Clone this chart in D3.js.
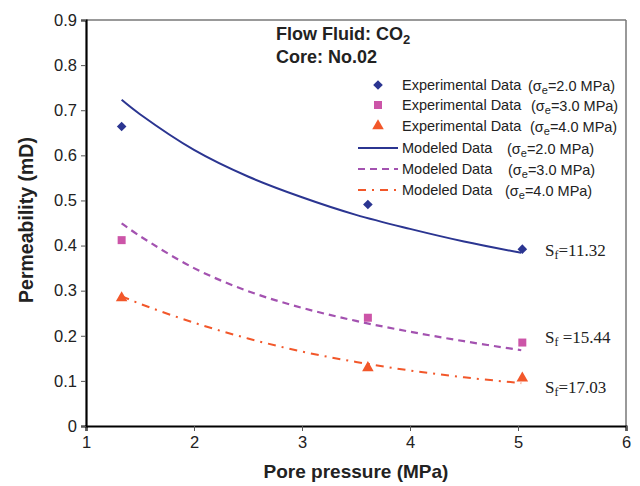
<!DOCTYPE html>
<html><head><meta charset="utf-8">
<script src="https://cdn.jsdelivr.net/npm/d3@7"></script>
<style>body{margin:0;background:#fff}svg{display:block}</style>
</head><body>
<svg id="c" width="640" height="486"></svg>
<script>
// ---- data ----
const xTicks = [1, 2, 3, 4, 5, 6];
const yTicks = [0, 0.1, 0.2, 0.3, 0.4, 0.5, 0.6, 0.7, 0.8, 0.9];
const expPressure = [1.33, 3.61, 5.04];
const exp2 = [0.664, 0.491, 0.392];
const exp3 = [0.412, 0.240, 0.185];
const exp4 = [0.284, 0.129, 0.106];
const modPressure = [1.33, 1.5, 2.0, 2.5, 3.0, 3.5, 4.0, 4.5, 5.03];
const mod2 = [0.723, 0.691, 0.612, 0.553, 0.507, 0.468, 0.437, 0.409, 0.384];
const mod3 = [0.449, 0.421, 0.350, 0.299, 0.262, 0.233, 0.209, 0.188, 0.168];
const mod4 = [0.288, 0.271, 0.229, 0.194, 0.165, 0.142, 0.123, 0.108, 0.095];
const stressLabels = ["2.0", "3.0", "4.0"];
const sfLabels = ["11.32", "15.44", "17.03"];

const colors = {blue: "#2B3591", pink: "#CC55A8", purple: "#A352B0", orange: "#F2572A"};

const svg = d3.select("#c");
const W = 640, H = 486;
const m = {l: 86, r: 14, t: 20, b: 60};
const x = d3.scaleLinear().domain([1, 6]).range([m.l, W - m.r]);
const y = d3.scaleLinear().domain([0, 0.9]).range([H - m.b, m.t]);
const font = "Liberation Sans, Arial, sans-serif";

// frame (top/right)
svg.append("line").attr("x1", x(1)).attr("x2", x(6)).attr("y1", y(0.9)).attr("y2", y(0.9))
  .attr("stroke", "#777").attr("stroke-width", 1.5);
svg.append("line").attr("x1", x(6)).attr("x2", x(6)).attr("y1", y(0.9)).attr("y2", y(0))
  .attr("stroke", "#777").attr("stroke-width", 1.5);

// axes
const xAxis = svg.append("g").attr("transform", `translate(0,${y(0)})`)
  .call(d3.axisBottom(x).tickValues(xTicks).tickSize(5).tickPadding(5).tickFormat(d3.format("d")));
const yAxis = svg.append("g").attr("transform", `translate(${x(1)},0)`)
  .call(d3.axisLeft(y).tickValues(yTicks).tickSize(5).tickPadding(4).tickFormat(d => d === 0 ? "0" : d3.format(".1f")(d)));
[xAxis, yAxis].forEach(g => {
  g.select(".domain").attr("stroke", "#000").attr("stroke-width", 2.2);
  g.selectAll(".tick line").attr("stroke", "#555").attr("stroke-width", 1);
  g.selectAll(".tick text").attr("fill", "#222").style("font-family", font).style("font-size", "16.5px");
});

// axis titles
svg.append("text").attr("x", 356).attr("y", 478).attr("text-anchor", "middle")
  .style("font-family", font).style("font-size", "19px").style("font-weight", "bold")
  .attr("fill", "#222").text("Pore pressure (MPa)");
svg.append("text").attr("transform", "translate(33,220) rotate(-90)").attr("text-anchor", "middle")
  .style("font-family", font).style("font-size", "19.5px").style("font-weight", "bold")
  .attr("fill", "#222").text("Permeability (mD)");

// titles in chart
const t1 = svg.append("text").attr("x", 276).attr("y", 40)
  .style("font-family", font).style("font-size", "18px").style("font-weight", "bold").attr("fill", "#222");
t1.append("tspan").text("Flow Fluid: CO");
t1.append("tspan").attr("dy", 4).style("font-size", "13px").text("2");
svg.append("text").attr("x", 276).attr("y", 62.5)
  .style("font-family", font).style("font-size", "18px").style("font-weight", "bold").attr("fill", "#222")
  .text("Core: No.02");

// model curves
const line = d3.line().x(d => x(d[0])).y(d => y(d[1])).curve(d3.curveCatmullRom.alpha(0.5));
const models = [
  {v: mod2, color: colors.blue, dash: null, w: 2},
  {v: mod3, color: colors.purple, dash: "7,5", w: 2.2},
  {v: mod4, color: colors.orange, dash: "8,6,2,6", w: 2}
];
models.forEach(s => {
  svg.append("path").datum(modPressure.map((p, i) => [p, s.v[i]]))
    .attr("d", line).attr("fill", "none").attr("stroke", s.color).attr("stroke-width", s.w)
    .attr("stroke-dasharray", s.dash);
});

// experimental markers
const sym = {
  diamond: () => "M0,-4.8L4.8,0L0,4.8L-4.8,0Z",
  square: d3.symbol().type(d3.symbolSquare).size(64),
  triangle: d3.symbol().type(d3.symbolTriangle).size(58)
};
const exps = [
  {v: exp2, color: colors.blue, s: sym.diamond},
  {v: exp3, color: colors.pink, s: sym.square},
  {v: exp4, color: colors.orange, s: sym.triangle}
];
exps.forEach(s => {
  svg.selectAll(null).data(expPressure.map((p, i) => [p, s.v[i]])).enter().append("path")
    .attr("d", s.s()).attr("transform", d => `translate(${x(d[0])},${y(d[1])})`).attr("fill", s.color);
});

// legend
function sigma(sel, xx, yy, val) {
  const t = sel.append("text").attr("x", xx).attr("y", yy).style("font-family", font).style("font-size", "14.5px").attr("fill", "#222");
  t.append("tspan").text("(σ");
  t.append("tspan").attr("dy", 3).style("font-size", "11px").text("e");
  t.append("tspan").attr("dy", -3).text(`=${val} MPa)`);
}
const legRows = [85, 105, 126, 148, 169, 190];
const expLegX = [528, 531, 530];
const modLegX = [507, 508, 505];
exps.forEach((s, i) => {
  svg.append("path").attr("d", s.s()).attr("transform", `translate(378,${legRows[i]})`).attr("fill", s.color);
  svg.append("text").attr("x", 402).attr("y", legRows[i] + 5).style("font-family", font).style("font-size", "14.5px").attr("fill", "#222").text("Experimental Data");
  sigma(svg, expLegX[i], legRows[i] + 6, stressLabels[i]);
});
models.forEach((s, i) => {
  const yy = legRows[i + 3];
  svg.append("line").attr("x1", 358).attr("x2", 398).attr("y1", yy).attr("y2", yy)
    .attr("stroke", s.color).attr("stroke-width", s.w).attr("stroke-dasharray", s.dash);
  svg.append("text").attr("x", 402).attr("y", yy + 5).style("font-family", font).style("font-size", "14.5px").attr("fill", "#222").text("Modeled Data");
  sigma(svg, modLegX[i], yy + 6, stressLabels[i]);
});

// Sf annotations
const sfY = [256, 343, 393];
const sfSpace = ["", " ", ""];
sfLabels.forEach((lab, i) => {
  const t = svg.append("text").attr("x", 545).attr("y", sfY[i]).style("font-family", "Liberation Serif, Times New Roman, serif")
    .style("font-size", "17px").attr("fill", "#222");
  t.append("tspan").text("S");
  t.append("tspan").attr("dy", 3).style("font-size", "12px").text("f");
  t.append("tspan").attr("dy", -3).text(`${sfSpace[i]}=${lab}`);
});
</script>
</body></html>
